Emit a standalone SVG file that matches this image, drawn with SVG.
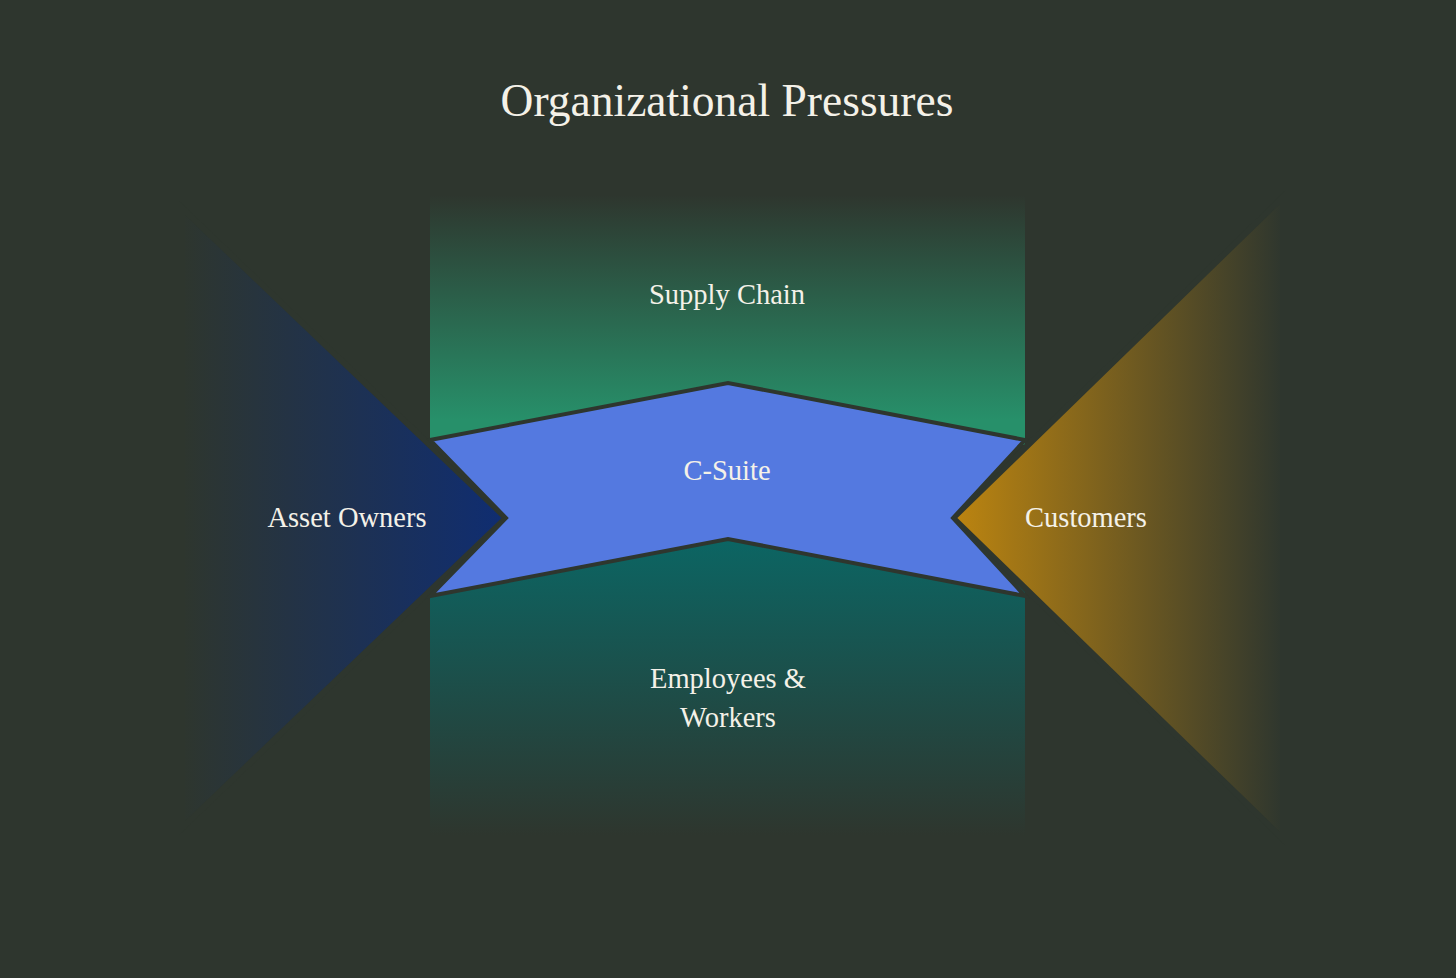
<svg xmlns="http://www.w3.org/2000/svg" width="1456" height="978" viewBox="0 0 1456 978">
<defs>
<style>
.lbl{font-family:"Liberation Serif","DejaVu Serif",serif;fill:#f4f1e8;text-anchor:middle;font-size:28.5px}
.title{font-family:"Liberation Serif","DejaVu Serif",serif;fill:#f4f1e8;text-anchor:middle;font-size:45.5px}
.tri{stroke:#2e362e;stroke-width:6;stroke-linejoin:miter}
</style>
<linearGradient id="gTop" x1="0" y1="0" x2="0" y2="1">
<stop offset="0" stop-color="#2e362e"/>
<stop offset="0.9" stop-color="#27906a"/>
<stop offset="1" stop-color="#27906a"/>
</linearGradient>
<linearGradient id="gBot" x1="0" y1="0" x2="0" y2="1">
<stop offset="0" stop-color="#0b6664"/>
<stop offset="1" stop-color="#2e362e"/>
</linearGradient>
<linearGradient id="gLeft" x1="0" y1="0" x2="1" y2="0">
<stop offset="0" stop-color="#2e362e"/>
<stop offset="1" stop-color="#0f2d72"/>
</linearGradient>
<linearGradient id="gRight" x1="0" y1="0" x2="1" y2="0">
<stop offset="0" stop-color="#bd8510"/>
<stop offset="1" stop-color="#2e362e"/>
</linearGradient>
</defs>
<rect width="1456" height="978" fill="#2e362e"/>
<text class="title" x="727" y="116">Organizational Pressures</text>
<g id="supply-chain">
<rect x="430" y="195" width="595" height="250" fill="url(#gTop)"/>
<text class="lbl" x="727" y="304">Supply Chain</text>
</g>
<g id="employees">
<rect x="430" y="535" width="595" height="300" fill="url(#gBot)"/>
<text class="lbl" x="728" y="688">Employees &amp;</text>
<text class="lbl" x="728" y="727">Workers</text>
</g>
<g id="asset-owners">
<polygon class="tri" points="182,208 506,518 182,828" fill="url(#gLeft)"/>
<text class="lbl" x="347" y="527">Asset Owners</text>
</g>
<g id="customers">
<polygon class="tri" points="1283,197 953,518 1283,839" fill="url(#gRight)"/>
<text class="lbl" x="1086" y="527">Customers</text>
</g>
<g id="c-suite">
<polygon points="430,440 728,383 1025,440 953,518 1025,596 728,539 430,596 506,518" fill="#5479e0" stroke="#2e362e" stroke-width="4" stroke-linejoin="miter"/>
<text class="lbl" x="727" y="480">C-Suite</text>
</g>
<g id="connectors"/>
</svg>
